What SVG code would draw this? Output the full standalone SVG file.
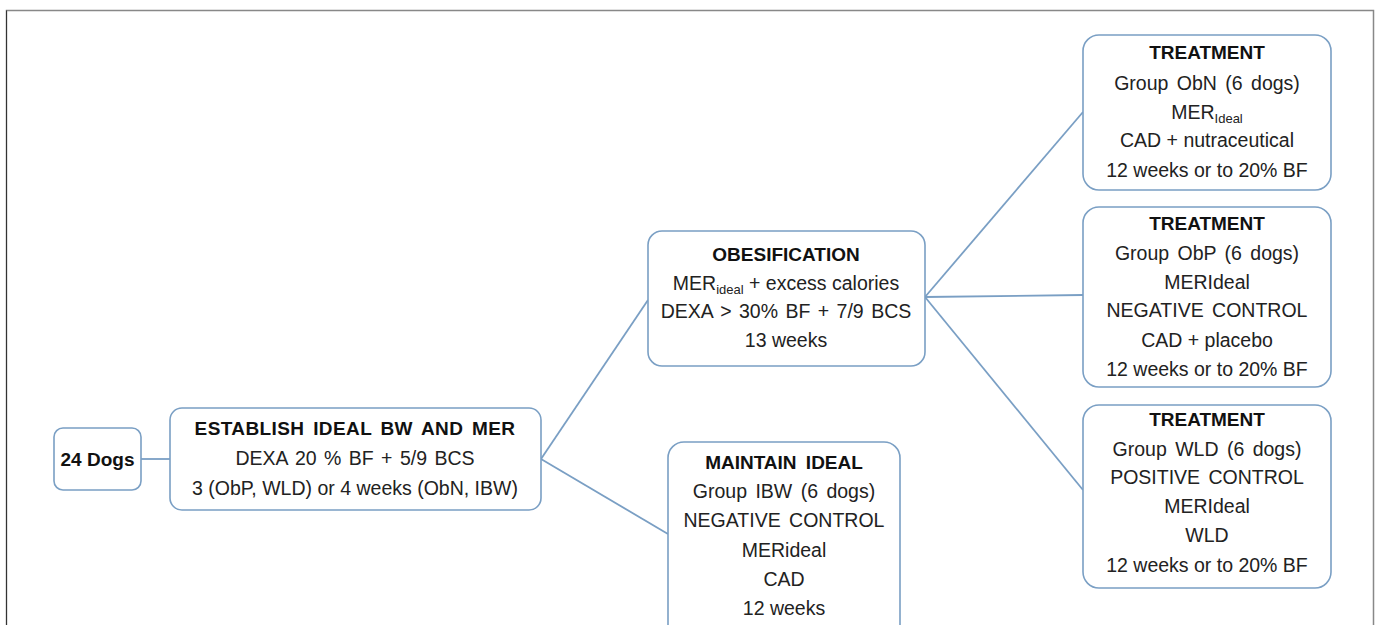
<svg xmlns="http://www.w3.org/2000/svg" width="1379" height="625" viewBox="0 0 1379 625">
<style>
.box{fill:#fff;stroke:#7a9fc4;stroke-width:1.6}
.t{font-family:"Liberation Sans",Arial,sans-serif;font-size:19.5px;fill:#222;text-anchor:middle}
.b{font-weight:bold;font-size:19px;fill:#111}
.sub{font-size:13px}
.con{fill:none;stroke:#7a9fc4;stroke-width:1.8}
</style>
<rect x="0" y="0" width="1379" height="625" fill="#fff"/>
<path d="M6.5 625 V10.5 H1373.5 V625" fill="none" stroke="#888" stroke-width="1.5"/>
<path d="M6.5 625 V10.5" fill="none" stroke="#333" stroke-width="1"/>
<g id="connectors">
<line class="con" x1="141" y1="459" x2="170" y2="459"/>
<line class="con" x1="541" y1="459" x2="648" y2="300"/>
<line class="con" x1="541" y1="459" x2="668" y2="534"/>
<line class="con" x1="925" y1="297" x2="1083" y2="112"/>
<line class="con" x1="925" y1="297" x2="1083" y2="295"/>
<line class="con" x1="925" y1="297" x2="1083" y2="490"/>
</g>
<g id="dogs">
<rect class="box" x="54" y="428" width="87" height="62" rx="9"/>
<text class="t b" x="97.5" y="466">24 Dogs</text>
</g>
<g id="establish">
<rect class="box" x="170" y="408" width="371" height="102" rx="12"/>
<text class="t b" x="355" y="435" word-spacing="3" letter-spacing="0.4">ESTABLISH IDEAL BW AND MER</text>
<text class="t" x="355" y="465" word-spacing="2">DEXA 20 % BF + 5/9 BCS</text>
<text class="t" x="355" y="495">3 (ObP, WLD) or 4 weeks (ObN, IBW)</text>
</g>
<g id="obesification">
<rect class="box" x="648" y="231" width="277" height="135" rx="14"/>
<text class="t b" x="786" y="261">OBESIFICATION</text>
<text class="t" x="786" y="290">MER<tspan class="sub" dy="4">ideal</tspan><tspan dy="-4"> + excess calories</tspan></text>
<text class="t" x="786" y="318" word-spacing="2">DEXA  &gt; 30% BF + 7/9 BCS</text>
<text class="t" x="786" y="347">13 weeks</text>
</g>
<g id="maintain">
<rect class="box" x="668" y="442" width="232" height="200" rx="16"/>
<text class="t b" x="784" y="469" word-spacing="4">MAINTAIN IDEAL</text>
<text class="t" x="784" y="498" word-spacing="3">Group IBW (6 dogs)</text>
<text class="t" x="784" y="527" word-spacing="3">NEGATIVE CONTROL</text>
<text class="t" x="784" y="557">MERideal</text>
<text class="t" x="784" y="586">CAD</text>
<text class="t" x="784" y="615">12 weeks</text>
</g>
<g id="treatment-obn">
<rect class="box" x="1083" y="35" width="248" height="155" rx="16"/>
<text class="t b" x="1207" y="59">TREATMENT</text>
<text class="t" x="1207" y="90" word-spacing="3">Group ObN (6 dogs)</text>
<text class="t" x="1207" y="119">MER<tspan class="sub" dy="4">Ideal</tspan></text>
<text class="t" x="1207" y="147">CAD + nutraceutical</text>
<text class="t" x="1207" y="177">12 weeks or to 20% BF</text>
</g>
<g id="treatment-obp">
<rect class="box" x="1083" y="207" width="248" height="180" rx="16"/>
<text class="t b" x="1207" y="230">TREATMENT</text>
<text class="t" x="1207" y="260" word-spacing="3">Group ObP (6 dogs)</text>
<text class="t" x="1207" y="289">MERIdeal</text>
<text class="t" x="1207" y="317" word-spacing="3">NEGATIVE CONTROL</text>
<text class="t" x="1207" y="347">CAD + placebo</text>
<text class="t" x="1207" y="376">12 weeks or to 20% BF</text>
</g>
<g id="treatment-wld">
<rect class="box" x="1083" y="405" width="248" height="183" rx="16"/>
<text class="t b" x="1207" y="426">TREATMENT</text>
<text class="t" x="1207" y="456" word-spacing="3">Group WLD (6 dogs)</text>
<text class="t" x="1207" y="484" word-spacing="3">POSITIVE CONTROL</text>
<text class="t" x="1207" y="513">MERIdeal</text>
<text class="t" x="1207" y="542">WLD</text>
<text class="t" x="1207" y="572">12 weeks or to 20% BF</text>
</g>
</svg>
